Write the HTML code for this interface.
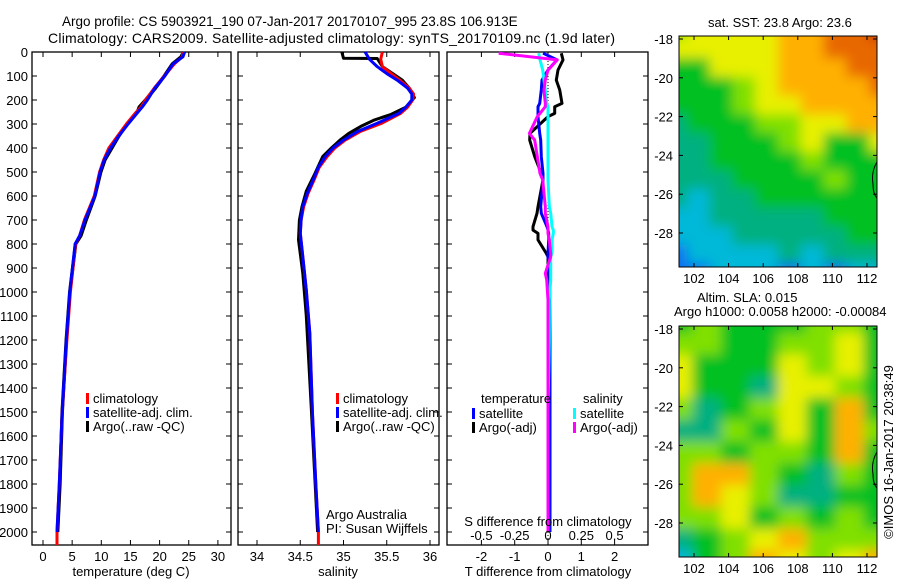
<!DOCTYPE html>
<html><head><meta charset="utf-8"><style>
body{margin:0;background:#fff;}
svg{display:block;font-family:"Liberation Sans",sans-serif;}
text{font-size:13px;fill:#000;}
</style></head><body>
<svg id="fig" width="900" height="580" viewBox="0 0 900 580" xmlns="http://www.w3.org/2000/svg">
<defs>
<filter id="blur" x="-10%" y="-10%" width="120%" height="120%"><feGaussianBlur stdDeviation="6"/></filter>
<clipPath id="c1"><rect x="679" y="36" width="198" height="231"/></clipPath>
<clipPath id="c2"><rect x="679" y="326" width="198" height="231"/></clipPath>
</defs>
<text x="62" y="26" style="font-size:13.5px">Argo profile: CS 5903921_190 07-Jan-2017 20170107_995 23.8S 106.913E</text>
<text x="48" y="43" textLength="567" style="font-size:14px">Climatology: CARS2009. Satellite-adjusted climatology: synTS_20170109.nc (1.9d later)</text>
<g id="plots"></g>
<text x="708" y="27">sat. SST: 23.8 Argo: 23.6</text>
<text x="697" y="302">Altim. SLA: 0.015</text>
<text x="674" y="316">Argo h1000: 0.0058 h2000: -0.00084</text>
<text transform="translate(893,452) rotate(-90)" text-anchor="middle">©IMOS 16-Jan-2017 20:38:49</text>
</svg>
<script>
// ---- data ----
const depthsT = [0,20,50,100,150,200,230,250,300,350,400,450,500,600,700,765,800,1000,1200,1500,1800,2000];
const tempClim = [24.0,23.9,22.5,20.8,19.1,17.6,16.8,16.0,14.3,12.8,11.3,10.4,9.7,8.8,7.1,6.3,5.6,4.7,4.1,3.3,2.8,2.4];
const tempSat  = [24.3,24.0,22.3,20.9,19.2,17.9,17.0,16.3,14.6,13.0,11.6,10.5,9.8,8.9,7.2,6.3,5.5,4.6,4.0,3.3,2.8,2.4];
const tempArgo = [24.1,23.7,22.2,20.8,19.3,17.6,16.5,16.2,14.4,13.0,11.8,10.6,9.9,8.9,7.4,6.5,5.6,4.6,4.0,3.3,2.9,2.5];
const depthsS = [0,30,61,90,117,150,175,200,230,256,297,330,367,400,436,480,533,590,644,700,756,853,992,1172,1500,1800,2000];
const salClim = [35.45,35.43,35.45,35.55,35.65,35.76,35.81,35.80,35.74,35.66,35.44,35.20,35.02,34.90,34.81,34.72,34.66,34.59,34.54,34.51,34.50,34.53,34.57,34.61,34.64,34.68,34.71];
const salSat  = [35.25,35.30,35.39,35.50,35.62,35.74,35.79,35.79,35.72,35.64,35.39,35.17,35.00,34.88,34.79,34.71,34.65,34.58,34.53,34.51,34.50,34.53,34.57,34.61,34.64,34.68,34.71];
const depthsSA = [0,26,27,61,90,117,150,190,230,260,283,310,339,367,400,436,506,580,644,700,783,922,1100,1500,2000];
const salArgo = [34.98,35.00,35.39,35.45,35.57,35.68,35.76,35.82,35.72,35.55,35.36,35.20,35.06,34.96,34.86,34.76,34.67,34.57,34.52,34.49,34.48,34.53,34.57,34.63,34.70];
const dDiff = [5,33,75,117,158,214,228,256,269,339,367,436,506,533,644,672,728,742,756,783,839,853,922,950,1033,1200,1500,2000];
const tDiffSat  = [-0.15,0.27,0.0,-0.18,-0.2,-0.25,-0.3,-0.3,-0.3,-0.25,-0.22,-0.2,-0.15,-0.15,-0.22,-0.2,-0.03,0,0.02,0.02,0.0,0.0,0.05,0.05,0.05,0.06,0.06,0.06];
const tDiffArgo = [0.4,0.45,0.3,0.25,0.35,0.42,0.2,0.2,0.0,-0.54,-0.55,-0.4,-0.2,-0.15,-0.3,-0.33,-0.45,-0.45,-0.3,-0.3,-0.05,0.0,0.0,0.0,0.0,0.0,0.0,0.0];
const sDiffSat  = [-0.07,-0.06,-0.04,-0.03,-0.02,-0.01,0.0,0.0,0.0,0.0,0.0,0.0,0.0,0.0,0.01,0.02,0.03,0.04,0.04,0.03,0.03,0.02,0.02,0.02,0.01,0.01,0.0,0.0];
const sDiffArgo = [-0.37,0.07,0.0,-0.02,-0.03,-0.02,-0.02,-0.06,-0.08,-0.14,-0.1,-0.08,-0.06,-0.04,-0.02,-0.02,0.0,0.0,0.0,0.01,0.02,0.02,-0.02,-0.01,0.0,0.0,0.0,0.0];
const depthTicks = [0,100,200,300,400,500,600,700,800,900,1000,1100,1200,1300,1400,1500,1600,1700,1800,1900,2000];
const tempTicks = [0,5,10,15,20,25,30];
const salTicks = ["34","34.5","35","35.5","36"];
const tdTicks = [-2,-1,0,1,2];
const sdTickLabels = ["-0.5","-0.25","0","0.25","0.5"];
const latTicks = [-18,-20,-22,-24,-26,-28];
const lonTicks = [102,104,106,108,110,112];
const sstGrid = [
 "LYYYYOORRD","YYYYYOORRR","GGYYYOOORR","GGGLYOOOOR","GGGLYYOOOO","TGGGLLYYOO","TTGGGLYGGY","TTGGGGLGGG","TTTGGGGLGG","TCTTGGGGGG","CCTTTTTGGG","CCCTTTTTGG","BCCCCTCTTT","BBCCCBCBCC"];
const slaGrid = [
 "GLGGGLLG","LLGGLLYG","YGGGYLYG","YGGTYYLG","LTGLYGOG","TTLGYGOL","LLGLLGOG","LOOLGTLG","LOYLTTGG","LLYGLGLG","TGLYOLLL","CGLOYLYO"];
const pal = {B:"#1070f0",C:"#00b8d8",T:"#00b080",G:"#00c020",L:"#80e000",Y:"#e8f000",O:"#ffb000",R:"#e86800",D:"#c03000"};

// ---- geometry ----
const NS="http://www.w3.org/2000/svg";
const g=document.getElementById('plots');
const top0=52, bot=545, dScale=0.24;
const yD=d=>top0+d*dScale;
const xT=t=>43+(t)*5.83;
const xS=s=>257+(s-34)*86.5;
const xTD=t=>548+t*33.3;
const xSD=s=>548+s*133.2;
function el(tag,attrs,parent){const e=document.createElementNS(NS,tag);for(const k in attrs)e.setAttribute(k,attrs[k]);(parent||g).appendChild(e);return e;}
function txt(x,y,s,anchor,parent){const t=el('text',{x:x,y:y,'text-anchor':anchor||'start'},parent);t.textContent=s;return t;}
function frame(x0,x1,name){
  const r=el('rect',{x:x0,y:top0,width:x1-x0,height:bot-top0,fill:'none',stroke:'#000','stroke-width':1.3});
  
  
  depthTicks.forEach(d=>{el('line',{x1:x0,x2:x0+5,y1:yD(d),y2:yD(d),stroke:'#000'});el('line',{x1:x1,x2:x1-5,y1:yD(d),y2:yD(d),stroke:'#000'});});
}
function line(xs,ds,fx,color,w,name){
  const pts=xs.map((v,i)=>fx(v).toFixed(1)+','+yD(ds[i]).toFixed(1)).join(' ');
  const p=el('polyline',{points:pts,fill:'none',stroke:color,'stroke-width':w,'stroke-linejoin':'round'});
  
  
}
function xticks(vals,labels,fx){
  vals.forEach((v,i)=>{const x=fx(v);el('line',{x1:x,x2:x,y1:bot,y2:bot-5,stroke:'#000'});el('line',{x1:x,x2:x,y1:top0,y2:top0+5,stroke:'#000'});
   const t=txt(x,561,labels[i],'middle');});
}
function legend(x,y,items){
  items.forEach((it,i)=>{el('rect',{x:x,y:y+i*14-10,width:3,height:11,fill:it[0]});const t=txt(x+7,y+i*14,it[1]);});
}
depthTicks.forEach(d=>{const t=txt(28,yD(d)+5,String(d),'end');});

// panel 1 temperature
frame(32,231,'temperature-panel');
xticks(tempTicks,tempTicks.map(String),xT);
line(tempArgo,depthsT,xT,'#000',3.5,'temp-argo-line');
line(tempClim.concat([2.4]),depthsT.concat([2054]),xT,'#f00',3,'temp-clim-line');
line(tempSat,depthsT,xT,'#00f',3,'temp-sat-line');
legend(86,403,[['#f00','climatology'],['#00f','satellite-adj. clim.'],['#000','Argo(..raw -QC)']]);
let a=txt(131,576,'temperature (deg C)','middle');

// panel 2 salinity
frame(238,439,'salinity-panel');
xticks(salTicks.map(Number),salTicks,xS);
line(salArgo,depthsSA,xS,'#000',3,'sal-argo-line');
line(salClim.concat([34.71]),depthsS.concat([2054]),xS,'#f00',3,'sal-clim-line');
line(salSat,depthsS,xS,'#00f',3,'sal-sat-line');
legend(336,403,[['#f00','climatology'],['#00f','satellite-adj. clim.'],['#000','Argo(..raw -QC)']]);
txt(326,519,'Argo Australia');txt(326,533,'PI: Susan Wijffels');
a=txt(338,576,'salinity','middle');

// panel 3 differences
frame(447,648,'difference-panel');
xticks(tdTicks,tdTicks.map(String),xTD);
el('line',{x1:548,x2:548,y1:top0,y2:bot,stroke:'#000','stroke-dasharray':'1,2'});
line(tDiffArgo,dDiff,xTD,'#000',3,'tdiff-argo-line');
line(tDiffSat,dDiff,xTD,'#00f',3,'tdiff-sat-line');
line(sDiffSat,dDiff,xSD,'#0ff',3,'sdiff-sat-line');
line(sDiffArgo,dDiff,xSD,'#f0f',3,'sdiff-argo-line');
txt(481,403,'temperature');txt(583,403,'salinity');
legend(472,418,[['#00f','satellite'],['#000','Argo(-adj)']]);
legend(573,418,[['#0ff','satellite'],['#f0f','Argo(-adj)']]);
txt(548,526,'S difference from climatology','middle');
sdTickLabels.forEach(s=>{txt(xSD(Number(s)),540,s,'middle');});
a=txt(548,576,'T difference from climatology','middle');

// maps
function map(y0,grid,clip,name){
  const x0=679,w=198,h=231;
  const gg=el('g',{'clip-path':'url(#'+clip+')'});
  
  
  const inner=el('g',{filter:'url(#blur)'},gg);
  const rows=grid.length,cols=grid[0].length;
  const cw=(w+30)/cols,ch=(h+30)/rows;
  grid.forEach((r,i)=>{for(let j=0;j<cols;j++){el('rect',{x:x0-15+j*cw,y:y0-15+i*ch,width:cw+1,height:ch+1,fill:pal[r[j]]},inner);}});
  el('rect',{x:x0,y:y0,width:w,height:h,fill:'none',stroke:'#000'});
  const yLat=l=>y0+3+(-18-l)*19.4;
  const xLon=l=>694+(l-102)*17.3;
  latTicks.forEach(l=>{const y=yLat(l);el('line',{x1:x0,x2:x0+4,y1:y,y2:y,stroke:'#000'});el('line',{x1:x0+w,x2:x0+w-4,y1:y,y2:y,stroke:'#000'});txt(673,y+5,String(l),'end');});
  lonTicks.forEach(l=>{const x=xLon(l);el('line',{x1:x,x2:x,y1:y0,y2:y0+4,stroke:'#000'});el('line',{x1:x,x2:x,y1:y0+h,y2:y0+h-4,stroke:'#000'});txt(x,y0+h+16,String(l),'middle');});
  el('path',{d:'M877 '+(y0+126)+' q-6 10 -4 22 q0 10 4 14',fill:'none',stroke:'#000'});
}
map(36,sstGrid,'c1','sst-map');
map(326,slaGrid,'c2','sla-map');
</script>
</body></html>
